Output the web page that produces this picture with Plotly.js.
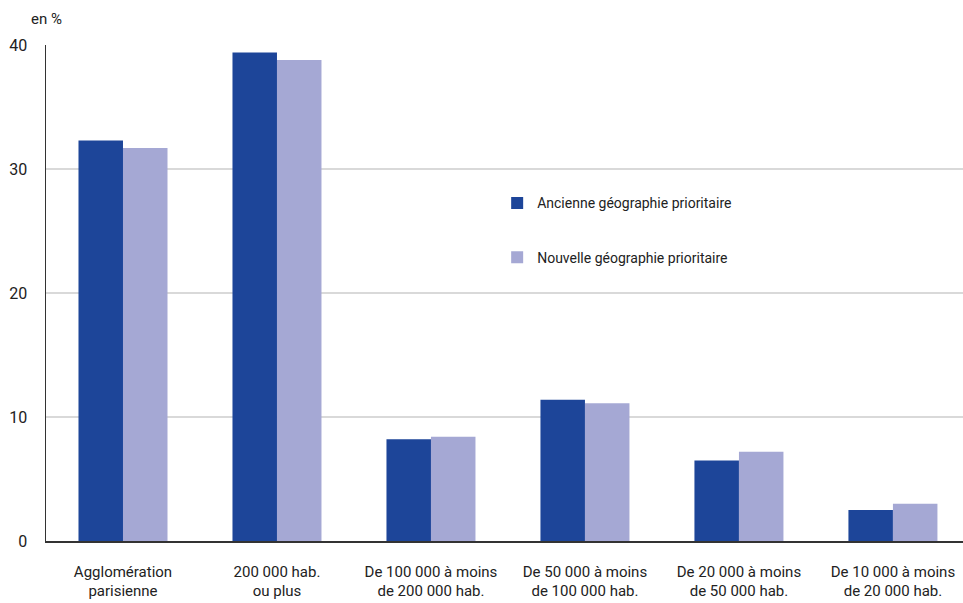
<!DOCTYPE html>
<html><head><meta charset="utf-8">
<script src="https://cdn.plot.ly/plotly-3.0.1.min.js"></script>
<style>body{margin:0;background:#fff}#chart{width:963px;height:603px}</style>
</head><body><div id="chart"></div>
<script>
const categories = ["Agglomération<br>parisienne","200 000 hab.<br>ou plus","De 100 000 à moins<br>de 200 000 hab.","De 50 000 à moins<br>de 100 000 hab.","De 20 000 à moins<br>de 50 000 hab.","De 10 000 à moins<br>de 20 000 hab."];
const ancienne = [32.3, 39.4, 8.2, 11.4, 6.5, 2.5];
const nouvelle = [31.7, 38.8, 8.4, 11.1, 7.2, 3.0];
const yTicks = [0, 10, 20, 30, 40];
const seriesNames = ["Ancienne géographie prioritaire","Nouvelle géographie prioritaire"];

const FONT = "Roboto, 'Liberation Sans', sans-serif";
const data = [
  {type:'bar', x:categories, y:ancienne, name:seriesNames[0], marker:{color:'#1d4599'}, legendgroup:'a'},
  {type:'bar', x:categories, y:nouvelle, name:seriesNames[1], marker:{color:'#a5a8d4'}, legendgroup:'b'}
];
const layout = {
  width:963, height:603,
  margin:{l:46, r:0, t:45, b:62},
  paper_bgcolor:'#fff', plot_bgcolor:'#fff',
  font:{family:FONT, size:15, color:'#222'},
  barmode:'group', bargap:0.422, bargroupgap:0,
  showlegend:true,
  legend:{x:0.492, y:0.713, xanchor:'left', yanchor:'top', tracegroupgap:33, font:{size:14, family:FONT, color:'#222'}, bgcolor:'rgba(0,0,0,0)', itemwidth:30},
  xaxis:{type:'category', range:[-0.5, 5.455], showline:true, linecolor:'#333', linewidth:1.5, showgrid:false, ticks:'outside', ticklen:16, tickcolor:'rgba(0,0,0,0)', tickfont:{size:15, family:FONT, color:'#222'}, fixedrange:true},
  yaxis:{range:[0,40], tickvals:yTicks, showline:true, linecolor:'#333', linewidth:1.5, showgrid:true, gridcolor:'#d9d9d9', gridwidth:2, zeroline:false, ticks:'outside', ticklen:14, tickcolor:'rgba(0,0,0,0)', tickfont:{size:16, family:FONT, color:'#222'}},
  annotations:[{text:'en %', xref:'paper', yref:'paper', x:-0.018, y:1.052, xanchor:'left', yanchor:'middle', showarrow:false, font:{size:15, family:FONT, color:'#222'}}]
};
Plotly.newPlot('chart', data, layout, {displayModeBar:false, staticPlot:true});
</script></body></html>
